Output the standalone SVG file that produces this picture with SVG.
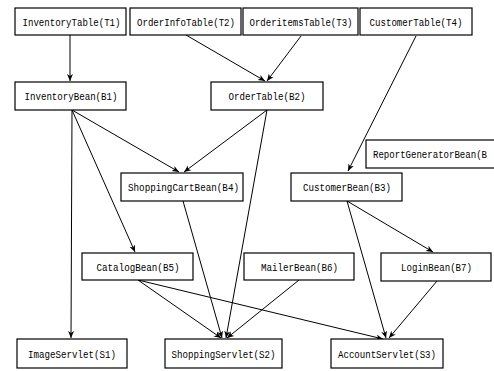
<svg xmlns="http://www.w3.org/2000/svg" width="494" height="371" viewBox="0 0 494 371">
<defs>
<marker id="ah" markerUnits="userSpaceOnUse" markerWidth="8" markerHeight="8" viewBox="0 0 8 8" refX="7" refY="4" orient="auto">
<path d="M0,1 L7,4 L0,7 L2,4 Z" fill="#000"/>
</marker>
<style>
rect{fill:#fff;stroke:#000;stroke-width:1.2}
text{font-family:"Liberation Mono","DejaVu Sans Mono",monospace;font-size:11px;fill:#000;text-anchor:middle}
#connectors line{stroke:#000;stroke-width:1;marker-end:url(#ah)}
</style>
</defs>
<rect x="0" y="0" width="494" height="371" style="stroke:none;fill:#fff"/>
<g id="connectors">
<line x1="70" y1="35" x2="70" y2="81"/>
<line x1="186" y1="35" x2="265" y2="81"/>
<line x1="301" y1="36" x2="267" y2="81"/>
<line x1="416" y1="36" x2="348" y2="171"/>
<line x1="72" y1="110" x2="179" y2="172"/>
<line x1="267" y1="110" x2="184" y2="172"/>
<line x1="72" y1="110" x2="135" y2="252"/>
<line x1="72" y1="110" x2="71" y2="338"/>
<line x1="183" y1="201" x2="222" y2="338"/>
<line x1="267" y1="110" x2="226" y2="338"/>
<line x1="138" y1="280" x2="221" y2="338"/>
<line x1="138" y1="280" x2="383" y2="339"/>
<line x1="299" y1="280" x2="227" y2="338"/>
<line x1="347" y1="201" x2="433" y2="252"/>
<line x1="347" y1="201" x2="386" y2="338"/>
<line x1="437" y1="281" x2="389" y2="338"/>
</g>
<g id="T1"><rect x="15" y="8" width="111" height="27"/><text x="71.5" y="25.5" textLength="98" lengthAdjust="spacingAndGlyphs">InventoryTable(T1)</text></g>
<g id="T2"><rect x="130" y="8" width="111" height="27"/><text x="186" y="25.5" textLength="98" lengthAdjust="spacingAndGlyphs">OrderInfoTable(T2)</text></g>
<g id="T3"><rect x="243" y="8" width="115" height="27"/><text x="301" y="25.5" textLength="103" lengthAdjust="spacingAndGlyphs">OrderitemsTable(T3)</text></g>
<g id="T4"><rect x="360" y="8" width="112" height="27"/><text x="416" y="25.5" textLength="93" lengthAdjust="spacingAndGlyphs">CustomerTable(T4)</text></g>
<g id="B1"><rect x="15" y="82" width="111" height="28"/><text x="71" y="100" textLength="93" lengthAdjust="spacingAndGlyphs">InventoryBean(B1)</text></g>
<g id="B2"><rect x="211" y="82" width="112" height="28"/><text x="267" y="100" textLength="77" lengthAdjust="spacingAndGlyphs">OrderTable(B2)</text></g>
<g id="B8"><rect x="366" y="140" width="132" height="28"/><text x="373" y="158" textLength="114" lengthAdjust="spacingAndGlyphs" style="text-anchor:start">ReportGeneratorBean(B</text></g>
<g id="B4"><rect x="121" y="173" width="122" height="28"/><text x="183.5" y="191" textLength="111" lengthAdjust="spacingAndGlyphs">ShoppingCartBean(B4)</text></g>
<g id="B3"><rect x="291" y="173" width="111" height="28"/><text x="347" y="191" textLength="88" lengthAdjust="spacingAndGlyphs">CustomerBean(B3)</text></g>
<g id="B5"><rect x="82" y="253" width="111" height="27"/><text x="138" y="270.5" textLength="83" lengthAdjust="spacingAndGlyphs">CatalogBean(B5)</text></g>
<g id="B6"><rect x="244" y="253" width="110" height="27"/><text x="299.5" y="270.5" textLength="77" lengthAdjust="spacingAndGlyphs">MailerBean(B6)</text></g>
<g id="B7"><rect x="381" y="253" width="110" height="28"/><text x="436.5" y="271" textLength="71" lengthAdjust="spacingAndGlyphs">LoginBean(B7)</text></g>
<g id="S1"><rect x="17" y="339" width="110" height="29"/><text x="72" y="357.5" textLength="88" lengthAdjust="spacingAndGlyphs">ImageServlet(S1)</text></g>
<g id="S2"><rect x="165" y="339" width="117" height="29"/><text x="223.5" y="357.5" textLength="104" lengthAdjust="spacingAndGlyphs">ShoppingServlet(S2)</text></g>
<g id="S3"><rect x="331" y="339" width="112" height="29"/><text x="387" y="357.5" textLength="98" lengthAdjust="spacingAndGlyphs">AccountServlet(S3)</text></g>
</svg>
